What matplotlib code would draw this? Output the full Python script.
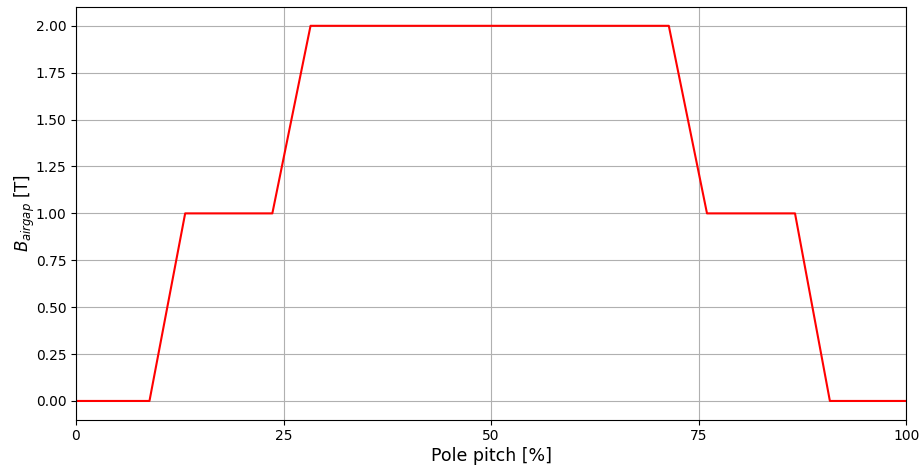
import numpy as np
import matplotlib
matplotlib.use("Agg")
import matplotlib.pyplot as plt

# air gap flux density over one pole pitch
pole_pitch = [0.0, 8.85, 13.15, 23.65, 28.25, 71.4, 76.0, 86.6, 90.8, 100.0]
b_airgap = [0.0, 0.0, 1.0, 1.0, 2.0, 2.0, 1.0, 1.0, 0.0, 0.0]

fig, ax = plt.subplots(figsize=(9.21, 4.70), dpi=100)
fig.subplots_adjust(left=0.0825, right=0.984, top=0.985, bottom=0.107)

ax.plot(pole_pitch, b_airgap, color="red", linewidth=1.5)
ax.set_xlim(0, 100)
ax.set_ylim(-0.1, 2.1)
ax.set_xticks([0, 25, 50, 75, 100])
ax.set_yticks(np.arange(0, 2.01, 0.25))
ax.yaxis.set_major_formatter(matplotlib.ticker.FormatStrFormatter("%.2f"))
ax.grid(True)
ax.set_xlabel("Pole pitch [%]", fontsize=12.5, labelpad=2.5)
ax.set_ylabel("$B_{airgap}$ [T]", fontsize=12, labelpad=-1)

fig.savefig("out.png", dpi=100)
